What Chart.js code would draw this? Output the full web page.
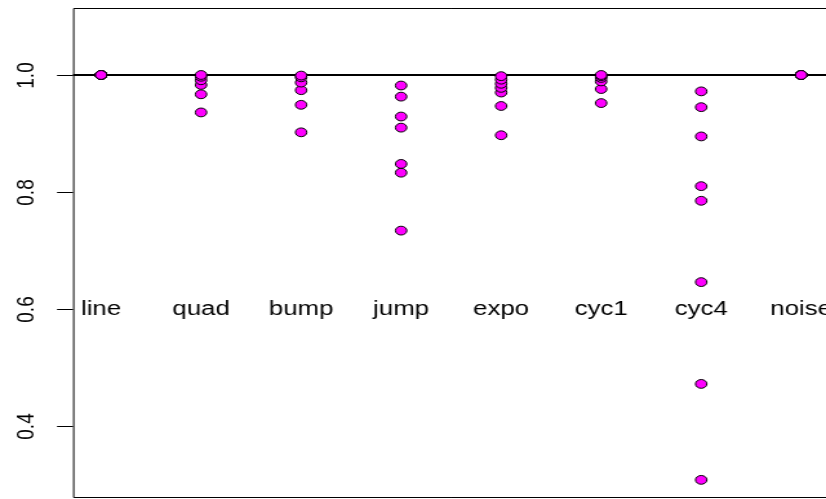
<!DOCTYPE html>
<html>
<head>
<meta charset="utf-8">
<script src="https://cdn.jsdelivr.net/npm/chart.js@4"></script>
<style>
  html, body { margin: 0; padding: 0; background: #fff; overflow: hidden; }
  #wrap { width: 826px; height: 499px; overflow: hidden; }
  #inner { width: 640px; height: 499px; transform: scaleX(1.290625); transform-origin: 0 0; }
</style>
</head>
<body>
<div id="wrap"><div id="inner"><canvas id="Chart1" width="640" height="499"></canvas></div></div>
<script>
document.addEventListener("DOMContentLoaded", function () {

  const categories = ["line", "quad", "bump", "jump", "expo", "cyc1", "cyc4", "noise"]
  const lineVals  = [1.0, 1.0, 1.0, 1.0, 1.0, 1.0]
  const quadVals  = [0.936, 0.967, 0.983, 0.991, 0.997, 1.0]
  const bumpVals  = [0.902, 0.949, 0.974, 0.987, 0.996, 0.999]
  const jumpVals  = [0.734, 0.833, 0.848, 0.910, 0.929, 0.963, 0.982]
  const expoVals  = [0.897, 0.947, 0.970, 0.978, 0.985, 0.992, 0.998]
  const cyc1Vals  = [0.952, 0.976, 0.989, 0.995, 0.998, 1.0]
  const cyc4Vals  = [0.308, 0.472, 0.646, 0.785, 0.810, 0.895, 0.945, 0.972]
  const noiseVals = [1.0, 1.0, 1.0, 1.0, 1.0, 1.0]
  const yTicks = [0.4, 0.6, 0.8, 1.0]
  const yTickLabels = ["0.4", "0.6", "0.8", "1.0"]
  const refLine = 1.0
  const labelLevel = 0.6

  const allVals = [lineVals, quadVals, bumpVals, jumpVals, expoVals, cyc1Vals, cyc4Vals, noiseVals]
  const points = []
  allVals.forEach(function (vals, i) {
    vals.forEach(function (v) { points.push({ x: i + 1, y: v }) })
  })

  // box, y axis, reference line and the in-plot category names (R base style)
  const rStyle = {
    id: 'rStyle',
    beforeDatasetsDraw(chart) {
      const ctx = chart.ctx
      const a = chart.chartArea
      const xs = chart.scales.x
      const ys = chart.scales.y
      ctx.save()
      ctx.strokeStyle = '#000'
      ctx.lineWidth = 1
      ctx.beginPath()
      ctx.moveTo(chart.width + 5, a.top + 0.5)
      ctx.lineTo(a.left + 0.5, a.top + 0.5)
      ctx.lineTo(a.left + 0.5, a.bottom - 0.5)
      ctx.lineTo(chart.width + 5, a.bottom - 0.5)
      ctx.stroke()

      ctx.fillStyle = '#000'
      ctx.font = '19px "Liberation Sans", Arial, sans-serif'
      yTicks.forEach(function (v, i) {
        const py = Math.round(ys.getPixelForValue(v)) + 0.5
        ctx.beginPath()
        ctx.moveTo(a.left - 12.4, py)
        ctx.lineTo(a.left, py)
        ctx.stroke()
        ctx.save()
        ctx.translate(25.8, py)
        ctx.rotate(-Math.PI / 2)
        ctx.textAlign = 'center'
        ctx.textBaseline = 'alphabetic'
        ctx.fillText(yTickLabels[i], 0, 0)
        ctx.restore()
      })

      const ry = ys.getPixelForValue(refLine)
      ctx.lineWidth = 2.2
      ctx.beginPath()
      ctx.moveTo(a.left, ry)
      ctx.lineTo(chart.width + 5, ry)
      ctx.stroke()

      ctx.font = '20px "Liberation Sans", Arial, sans-serif'
      ctx.textAlign = 'center'
      ctx.textBaseline = 'alphabetic'
      const ly = ys.getPixelForValue(labelLevel) + 6
      categories.forEach(function (c, i) {
        ctx.fillText(c, xs.getPixelForValue(i + 1), ly)
      })
      ctx.restore()
    }
  }

  const config1 = {
    type: 'scatter',
    data: {
      datasets: [{
        data: points,
        backgroundColor: '#ff00ff',
        borderColor: '#000',
        borderWidth: 1,
        pointRadius: 4.4,
        pointHoverRadius: 4.4
      }]
    },
    options: {
      responsive: false,
      animation: false,
      layout: { autoPadding: false, padding: { left: 56.6, top: 8, right: 0, bottom: 1 } },
      scales: {
        x: { type: 'linear', display: false, min: 0.72, max: 8.248 },
        y: { type: 'linear', display: false, min: 0.277, max: 1.1145 }
      },
      plugins: {
        legend: { display: false },
        tooltip: { enabled: false }
      }
    },
    plugins: [rStyle]
  }

  var myChart1 = new Chart(document.getElementById('Chart1'), config1)
})
</script>
</body>
</html>
